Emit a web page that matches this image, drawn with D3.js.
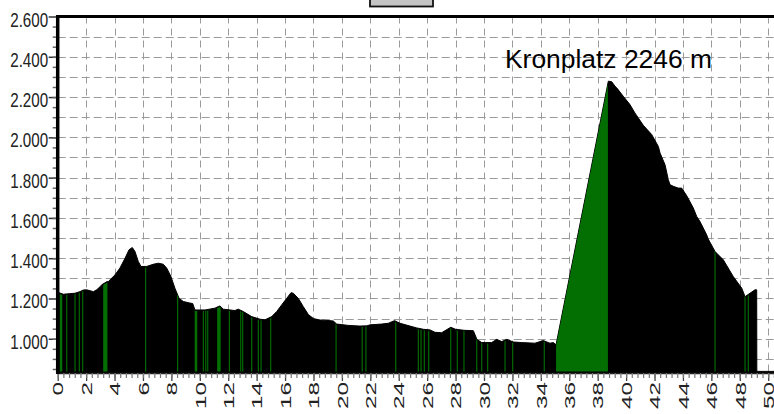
<!DOCTYPE html>
<html>
<head>
<meta charset="utf-8">
<script src="https://cdn.jsdelivr.net/npm/d3@7"></script>
<style>
  html, body { margin: 0; padding: 0; background: #fff; }
  svg { display: block; }
  text { font-family: "Liberation Sans", Arial, sans-serif; }
</style>
</head>
<body>
<svg id="chart" width="774" height="414"></svg>
<script>
// ---- data ----
const distKm = [0, 0.39, 1.22, 1.57, 1.8, 2.04, 2.51, 2.74, 2.98, 3.10, 3.45, 3.56, 4.03, 4.38, 4.74, 5.02, 5.25, 5.44, 5.67, 5.86,
  6.26, 6.73, 7.08, 7.43, 7.67, 7.97, 8.25, 8.54, 8.84, 9.31, 9.5, 9.66, 10.37, 11.07, 11.3, 11.42, 11.65, 12.47, 12.71, 13.06,
  13.65, 14.24, 14.59, 15.06, 15.41, 15.76, 16.12, 16.42, 16.58, 16.93, 17.28, 17.64, 18.0, 18.46, 19.16, 19.4, 19.63, 20.5,
  21.27, 21.75, 21.98, 22.8, 23.27, 23.7, 24.09, 24.79, 25.26, 25.73, 26.2, 26.55, 27.02, 27.66, 28.0, 28.6, 29.25, 29.5,
  29.84, 30.54, 30.89, 31.25, 31.6, 32.06, 32.65, 33.59, 34.17, 34.64, 34.88, 35.07, 38.75, 38.99, 39.22, 39.34, 39.8,
  40.27, 40.62, 41.21, 41.8, 42.27, 42.39, 42.74, 42.97, 43.09, 43.32, 43.67, 43.91, 44.26, 44.73, 44.97, 45.2, 45.67,
  45.78, 46.26, 46.84, 47.54, 48.14, 48.37, 48.72, 49.07, 49.19, 49.2, 50.6];
const elevM = [1231, 1221, 1226, 1234, 1242, 1243, 1234, 1243, 1258, 1268, 1283, 1284, 1317, 1351, 1400, 1442, 1453, 1433, 1384, 1359,
  1359, 1370, 1375, 1370, 1351, 1309, 1251, 1201, 1185, 1177, 1175, 1143, 1143, 1152, 1160, 1163, 1147, 1140, 1147, 1135,
  1110, 1097, 1094, 1110, 1135, 1168, 1201, 1229, 1226, 1201, 1160, 1120, 1100, 1093, 1090, 1088, 1073, 1066,
  1063, 1064, 1069, 1073, 1077, 1090, 1077, 1063, 1054, 1047, 1044, 1032, 1030, 1057, 1047, 1042, 1040, 997,
  981, 981, 997, 986, 997, 984, 981, 978, 991, 978, 981, 970, 2279, 2276, 2254, 2246, 2204,
  2163, 2121, 2060, 2014, 1955, 1922, 1864, 1790, 1765, 1757, 1748, 1748, 1711, 1649, 1607, 1582, 1516,
  1495, 1433, 1392, 1309, 1251, 1209, 1226, 1243, 1243, 838, 838];
// green stretches (km from, km to)
const greenFrom = [0.14, 0.6, 1.18, 1.48, 1.72, 3.2, 6.15, 8.4, 9.64, 10.21, 10.38, 10.52, 11.22, 12.04, 12.84, 12.98, 13.61, 14.08,
  14.27, 14.95, 19.55, 21.39, 21.65, 23.75, 25.34, 25.53, 25.76, 26.07, 27.62, 28.08, 28.55, 29.45, 29.8, 30.22, 31.44, 31.98,
  34.2, 35.07, 46.22, 48.33, 48.56];
const greenTo = [0.32, 0.68, 1.26, 1.56, 1.8, 3.5, 6.23, 8.48, 9.82, 10.29, 10.46, 10.6, 11.47, 12.12, 12.92, 13.06, 13.69, 14.16,
  14.35, 15.03, 19.63, 21.47, 21.73, 23.83, 25.42, 25.61, 25.84, 26.15, 27.7, 28.16, 28.63, 29.53, 29.88, 30.3, 31.52, 32.06,
  34.28, 38.72, 46.3, 48.41, 48.64];
const yTicks = [1000, 1200, 1400, 1600, 1800, 2000, 2200, 2400, 2600];
const yTickLabels = ["1.000", "1.200", "1.400", "1.600", "1.800", "2.000", "2.200", "2.400", "2.600"];
const xTicks = [0, 2, 4, 6, 8, 10, 12, 14, 16, 18, 20, 22, 24, 26, 28, 30, 32, 34, 36, 38, 40, 42, 44, 46, 48, 50];
const xTickLabels = ["0", "2", "4", "6", "8", "10", "12", "14", "16", "18", "20", "22", "24", "26", "28", "30", "32", "34", "36", "38", "40", "42", "44", "46", "48", "50"];
const yGrid = [900, 1000, 1100, 1200, 1300, 1400, 1500, 1600, 1700, 1800, 1900, 2000, 2100, 2200, 2300, 2400, 2500];
const yMinor = d3.range(850, 2600, 50);
const xMinor = d3.range(0, 50.5, 0.4);
const peakLabel = "Kronplatz 2246 m";

// ---- chart ----
const W = 774, H = 414;
const svg = d3.select("#chart");
const x = d3.scaleLinear().domain([0, 50]).range([57.7, 768.2]);
const y = d3.scaleLinear().domain([830, 2600]).range([373, 16.5]);
const xRight = W;

svg.append("rect").attr("width", W).attr("height", H).attr("fill", "#fff");

const defs = svg.append("defs");
defs.append("clipPath").attr("id", "plotclip")
  .append("rect").attr("x", x(0)).attr("y", y(2600)).attr("width", xRight - x(0)).attr("height", y(830) - y(2600));

// grid
const grid = svg.append("g").attr("stroke", "#9a9a9a").attr("stroke-width", 1);
grid.selectAll("line.h").data(yGrid).join("line").attr("class", "h")
  .attr("x1", x(0)).attr("x2", xRight)
  .attr("y1", d => Math.round(y(d)) + 0.5).attr("y2", d => Math.round(y(d)) + 0.5)
  .attr("stroke-dasharray", "8,4");
grid.selectAll("line.v").data(xTicks.slice(1)).join("line").attr("class", "v")
  .attr("x1", d => Math.round(x(d)) + 0.5).attr("x2", d => Math.round(x(d)) + 0.5)
  .attr("y1", y(2600)).attr("y2", y(830))
  .attr("stroke-dasharray", "7,5");

// profile
const pts = distKm.map((d, i) => [d, elevM[i]]);
const area = d3.area().x(d => x(d[0])).y0(y(830)).y1(d => y(d[1]));
const g = svg.append("g").attr("clip-path", "url(#plotclip)");
g.append("path").datum(pts).attr("d", area).attr("fill", "#000").attr("stroke", "#000").attr("stroke-width", 1);

const gclip = defs.append("clipPath").attr("id", "greenclip");
gclip.selectAll("rect").data(greenFrom).join("rect")
  .attr("x", (d) => x(d))
  .attr("width", (d, i) => x(greenTo[i]) - x(d))
  .attr("y", 0).attr("height", H);
const areaGreen = d3.area().x(d => x(d[0])).y0(y(830) - 1.5).y1(d => y(d[1]) + 1);
g.append("g").attr("clip-path", "url(#greenclip)")
  .append("path").datum(pts).attr("d", areaGreen).attr("fill", "#036f03");

// left axis
const yAxis = svg.append("g").attr("transform", `translate(${x(0)},0)`)
  .call(d3.axisLeft(y).tickValues(yTicks).tickFormat((d, i) => yTickLabels[i]).tickSize(9).tickSizeOuter(0).tickPadding(0));
yAxis.select(".domain").remove();
yAxis.selectAll(".tick line").attr("stroke", "#333").attr("stroke-width", 1.5);
yAxis.selectAll(".tick text")
  .attr("x", -9.5).attr("dy", null).attr("y", 9.5)
  .attr("fill", "#222").style("font-size", "20px")
  .attr("textLength", 38).attr("lengthAdjust", "spacingAndGlyphs");
const yMinorAxis = svg.append("g").attr("transform", `translate(${x(0)},0)`)
  .call(d3.axisLeft(y).tickValues(yMinor).tickFormat("").tickSize(5).tickSizeOuter(0));
yMinorAxis.select(".domain").remove();
yMinorAxis.selectAll(".tick line").attr("stroke", "#666").attr("stroke-width", 1.5);

// bottom axis
const xAxis = svg.append("g").attr("transform", `translate(0,${y(830)})`)
  .call(d3.axisBottom(x).tickValues(xTicks).tickFormat((d, i) => xTickLabels[i]).tickSize(8).tickSizeOuter(0));
xAxis.select(".domain").attr("d", `M${x(0)},0.5H${xRight}`).attr("stroke", "#222").attr("stroke-width", 1.5);
xAxis.selectAll(".tick line").attr("stroke", "#444").attr("stroke-width", 1.3);
xAxis.selectAll(".tick text")
  .attr("x", 0).attr("y", 0).attr("dy", "0.35em")
  .attr("transform", "translate(0,9) rotate(-90)")
  .attr("text-anchor", "end")
  .attr("fill", "#222").style("font-size", "15px")
  .attr("textLength", (d, i) => 13.5 * xTickLabels[i].length).attr("lengthAdjust", "spacingAndGlyphs");
const xMinorAxis = svg.append("g").attr("transform", `translate(0,${y(830)})`)
  .call(d3.axisBottom(x).tickValues(xMinor).tickFormat("").tickSize(5).tickSizeOuter(0));
xMinorAxis.select(".domain").remove();
xMinorAxis.selectAll(".tick line").attr("stroke", "#777").attr("stroke-width", 1.2);

// frame lines
svg.append("line").attr("x1", x(0)).attr("x2", x(0)).attr("y1", y(2600) - 1.5).attr("y2", y(830) + 1)
  .attr("stroke", "#000").attr("stroke-width", 3.5);
svg.append("line").attr("x1", x(0) - 1.5).attr("x2", xRight).attr("y1", y(2600)).attr("y2", y(2600))
  .attr("stroke", "#000").attr("stroke-width", 3);

// small box at top
svg.append("rect").attr("x", 370).attr("y", -3).attr("width", 63).attr("height", 9.5)
  .attr("fill", "#c4c4c4").attr("stroke", "#111").attr("stroke-width", 1.8);

// peak label
svg.append("text").attr("x", 505).attr("y", 68).attr("fill", "#000")
  .style("font-size", "25px")
  .attr("textLength", 207).attr("lengthAdjust", "spacingAndGlyphs")
  .text(peakLabel);
</script>
</body>
</html>
